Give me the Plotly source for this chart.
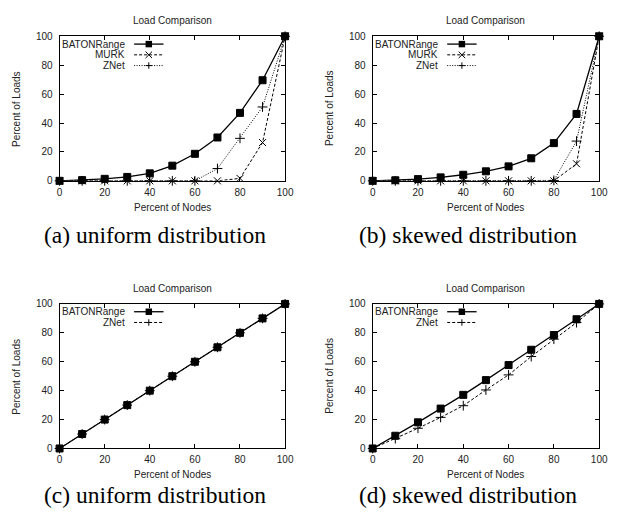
import plotly.graph_objects as go

W, H = 617, 517

# ---------------- data ----------------
nodes_pct = [0, 10, 20, 30, 40, 50, 60, 70, 80, 90, 100]

a_baton = [0, 0.5, 1.4, 2.7, 5.2, 10.5, 18.7, 30, 47, 69.6, 100]
a_murk = [0, 0, 0, 0, 0, 0, 0, 0, 1.7, 26.5, 100]
a_znet = [0, 0, 0, 0, 0, 0, 0, 8.5, 29.4, 51.1, 100]

b_baton = [0, 0.4, 1.2, 2.4, 4.2, 6.6, 10, 15.6, 26.1, 46.3, 100]
b_murk = [0, 0, 0, 0, 0, 0, 0, 0, 0, 11.8, 100]
b_znet = [0, 0, 0, 0, 0, 0, 0, 0, 0.3, 27.5, 100]

c_baton = [0, 10, 20, 30, 40, 50, 60, 70, 80, 90, 100]
c_znet = [0, 10, 20, 30, 40, 50, 60, 70, 80, 90, 100]

d_baton = [0, 8.8, 18.1, 27.6, 37.1, 47.3, 57.7, 68.3, 78.5, 89.4, 100]
d_znet = [0, 6.8, 14.0, 21.5, 29.6, 40.5, 50.9, 63.6, 75.6, 87.1, 100]

tick_vals = [0, 20, 40, 60, 80, 100]
panel_title = "Load Comparison"
x_title = "Percent of Nodes"
y_title = "Percent of Loads"
captions = ["(a) uniform distribution", "(b) skewed distribution",
            "(c) uniform distribution", "(d) skewed distribution"]


def px(x):
    return x / W


def py(y):
    return 1 - y / H


SANS = "Liberation Sans, Arial, sans-serif"
SERIF = "Liberation Serif, Times New Roman, serif"

# panel geometry in pixels: (left, right, top, bottom)
panels = [
    (57.7, 287.7, 31, 179),
    (377, 608, 31, 179),
    (57.7, 287.7, 305, 453),
    (377, 608, 305, 453),
]

fig = go.Figure()

STY = {
    "BATONRange": dict(dash="solid", symbol="square", msize=7, width=1.3),
    "MURK": dict(dash="3px,2px", symbol="x-thin", msize=7, width=1),
    "ZNet": dict(dash="1px,1.5px", symbol="cross-thin", msize=7, width=1),
    "ZNet2": dict(dash="3px,2px", symbol="cross-thin", msize=7, width=1),
}

# (name, values, style key); drawing order
series = [
    [("MURK", a_murk, "MURK"), ("ZNet", a_znet, "ZNet"), ("BATONRange", a_baton, "BATONRange")],
    [("MURK", b_murk, "MURK"), ("ZNet", b_znet, "ZNet"), ("BATONRange", b_baton, "BATONRange")],
    [("ZNet", c_znet, "ZNet2"), ("BATONRange", c_baton, "BATONRange")],
    [("ZNet", d_znet, "ZNet2"), ("BATONRange", d_baton, "BATONRange")],
]
# key order
key_order = [
    [("BATONRange", "BATONRange"), ("MURK", "MURK"), ("ZNet", "ZNet")],
    [("BATONRange", "BATONRange"), ("MURK", "MURK"), ("ZNet", "ZNet")],
    [("BATONRange", "BATONRange"), ("ZNet", "ZNet2")],
    [("BATONRange", "BATONRange"), ("ZNet", "ZNet2")],
]

annotations = []
shapes = []

for i, (l, r, t, b) in enumerate(panels):
    n = i + 1
    xa = "x" if n == 1 else f"x{n}"
    ya = "y" if n == 1 else f"y{n}"
    for name, vals, key in series[i]:
        s = STY[key]
        fig.add_trace(go.Scatter(
            x=nodes_pct, y=vals, name=name, xaxis=xa, yaxis=ya,
            mode="lines+markers", showlegend=False, cliponaxis=False,
            line=dict(color="black", width=s["width"], dash=s["dash"]),
            marker=dict(symbol=s["symbol"], size=s["msize"], color="black",
                        line=dict(color="black", width=1)),
        ))
    axis_common = dict(
        showline=True, linecolor="black", linewidth=1, mirror="allticks",
        ticks="inside", ticklen=4, tickwidth=1, tickcolor="black",
        tickvals=tick_vals, showgrid=False, zeroline=False,
        tickfont=dict(family=SANS, size=10, color="#222"),
    )
    fig.update_layout(**{
        ("xaxis" if n == 1 else f"xaxis{n}"): dict(
            domain=[px(l), px(r)], range=[0, 100], anchor=ya,
            ticklabelstandoff=2, **axis_common),
        ("yaxis" if n == 1 else f"yaxis{n}"): dict(
            domain=[py(b), py(t)], range=[0, 100], anchor=xa,
            ticklabelstandoff=4, **axis_common),
    })
    cx = (l + r) / 2
    cy = (t + b) / 2
    annotations.append(dict(x=px(cx), y=py(t - 16), xref="paper", yref="paper",
                            text=panel_title, showarrow=False,
                            font=dict(family=SANS, size=10, color="#222"),
                            xanchor="center", yanchor="middle"))
    annotations.append(dict(x=px(cx), y=py(b + 27), xref="paper", yref="paper",
                            text=x_title, showarrow=False,
                            font=dict(family=SANS, size=10, color="#222"),
                            xanchor="center", yanchor="middle"))
    annotations.append(dict(x=px(l - 44), y=py(cy), xref="paper", yref="paper",
                            text=y_title, showarrow=False, textangle=-90,
                            font=dict(family=SANS, size=10, color="#222"),
                            xanchor="center", yanchor="middle"))
    cap_y = 234 if i < 2 else 501
    annotations.append(dict(x=px(l + 97.5), y=py(cap_y),
                            xref="paper", yref="paper", text=captions[i],
                            showarrow=False,
                            font=dict(family=SERIF, size=23.5, color="black"),
                            xanchor="center", yanchor="middle"))

    # manual gnuplot-style key (text right-aligned, sample to the right)
    text_right = l + 69
    ls, le = l + 76, l + 106
    mx = (ls + le) / 2
    for k, (lab, key) in enumerate(key_order[i]):
        yy = t + 8 + 11 * k
        s = STY[key]
        annotations.append(dict(x=px(text_right), y=py(yy), xref="paper", yref="paper",
                                text=lab, showarrow=False,
                                font=dict(family=SANS, size=10, color="#222"),
                                xanchor="right", yanchor="middle"))
        shapes.append(dict(type="line", xref="paper", yref="paper",
                           x0=px(ls), x1=px(le), y0=py(yy), y1=py(yy),
                           line=dict(color="black", width=s["width"], dash=s["dash"])))
        h = 3.3
        if s["symbol"] == "square":
            shapes.append(dict(type="rect", xref="paper", yref="paper",
                               x0=px(mx - h), x1=px(mx + h), y0=py(yy + h), y1=py(yy - h),
                               fillcolor="black", line=dict(color="black", width=0)))
        elif s["symbol"] == "x-thin":
            for (dx0, dy0, dx1, dy1) in [(-h, -h, h, h), (-h, h, h, -h)]:
                shapes.append(dict(type="line", xref="paper", yref="paper",
                                   x0=px(mx + dx0), y0=py(yy + dy0),
                                   x1=px(mx + dx1), y1=py(yy + dy1),
                                   line=dict(color="black", width=1)))
        else:
            for (dx0, dy0, dx1, dy1) in [(-h, 0, h, 0), (0, -h, 0, h)]:
                shapes.append(dict(type="line", xref="paper", yref="paper",
                                   x0=px(mx + dx0), y0=py(yy + dy0),
                                   x1=px(mx + dx1), y1=py(yy + dy1),
                                   line=dict(color="black", width=1)))

fig.update_layout(
    width=W, height=H, margin=dict(l=0, r=0, t=0, b=0),
    paper_bgcolor="white", plot_bgcolor="white",
    annotations=annotations, shapes=shapes, showlegend=False,
    hovermode=False,
)

fig.write_html("out.html",
               config={"displayModeBar": False, "staticPlot": True},
               post_script="document.body.style.margin='0';document.body.style.overflow='hidden';")
